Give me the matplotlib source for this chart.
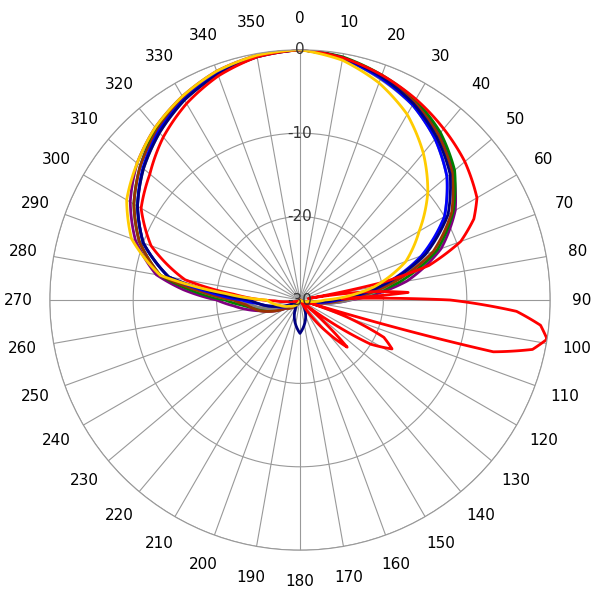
import numpy as np
import matplotlib.pyplot as plt

ang = [0, 10, 20, 30, 40, 50, 60, 70, 80, 90, 100, 120, 150, 180, 210, 240, 255, 265, 270, 275, 280, 290, 300, 310, 320, 330, 340, 350, 360]
purple = [0, -0.5, -1.5, -2.5, -4, -6, -8.5, -12, -17, -24, -28, -29.5, -30, -30, -29.5, -28, -25, -22, -20, -16, -12.5, -9, -6.5, -4.5, -3, -1.8, -0.8, -0.2, 0]
green = [0, -0.4, -1.3, -2.3, -3.8, -5.8, -8.8, -12.5, -18, -25, -28.5, -29.5, -30, -30, -29.5, -28.5, -26, -23, -21, -17, -13, -9.5, -7, -5, -3.2, -2, -1, -0.3, 0]
navy = [0, -0.5, -1.5, -2.8, -4.5, -6.5, -9.5, -14, -20, -26, -29, -30, -29, -26, -29, -29.5, -27, -25, -24, -20, -14, -10, -7.5, -5.5, -3.8, -2.3, -1.2, -0.4, 0]
gray = [0, -0.6, -1.8, -3, -4.8, -7, -10, -14, -19, -24, -28, -29.5, -30, -30, -29.5, -28.5, -26, -24, -22, -18, -14, -10, -7.5, -5.5, -3.8, -2.3, -1.2, -0.4, 0]
brown = [0, -0.5, -1.5, -2.6, -4.2, -6.2, -9, -13, -19, -25, -28, -29.5, -30, -30, -29.5, -28, -25, -23.5, -22, -18, -13, -9.5, -7, -5, -3.4, -2, -1, -0.3, 0]
blue = [0, -0.6, -1.7, -3, -4.8, -7, -10, -14.5, -20, -25.5, -28.5, -29.5, -30, -30, -29.5, -28.5, -27, -25, -23, -19, -14, -10, -7.5, -5.4, -3.6, -2.2, -1.1, -0.3, 0]
gold = [0, -0.8, -2.3, -4.3, -7, -10, -13.5, -16.5, -21, -27, -29, -30, -30, -30, -29.5, -28.5, -27.5, -26.5, -26, -21, -13, -8.5, -6, -4.5, -3, -1.8, -0.8, -0.2, 0]

red_ang = [0, 10, 20, 30, 40, 50, 60, 65, 70, 75, 78, 80, 83, 86, 88, 90, 93, 96, 99, 102, 105, 107, 110, 114, 118, 122, 126, 130, 135, 140, 150, 160, 170, 180, 200, 230, 250, 260, 268, 275, 280, 290, 300, 310, 320, 330, 340, 350, 360]
red = [0, -0.5, -1.3, -2.2, -3.2, -4.2, -5.5, -7, -9.5, -14, -20, -29, -22, -17, -25, -12, -4, -1, 0, -1.5, -6, -29, -24, -19, -17.5, -20, -26, -30, -22, -25, -30, -30, -30, -30, -30, -30, -29.5, -29, -27, -22, -16, -11, -8, -6.5, -4.5, -2.8, -1.4, -0.4, 0]

series = [(purple, '#800080'), (green, '#008000'), (gray, '#808080'), (brown, '#993300'),
          (blue, '#0000ff'), (navy, '#000080'), (red, '#ff0000'), (gold, '#ffcc00')]

fig = plt.figure(figsize=(6, 6), dpi=100)
ax = fig.add_axes([0.083, 0.083, 0.834, 0.834], projection='polar')
ax.set_theta_zero_location('N')
ax.set_theta_direction(-1)
ax.set_facecolor('white')
ax.set_ylim(-30, 0)
ax.set_rticks([-30, -20, -10, 0])
ax.set_yticklabels([])
ax.set_thetagrids(np.arange(0, 360, 10), [str(a) for a in range(0, 360, 10)], fontsize=11)
ax.tick_params(axis='x', pad=12)
ax.grid(color='#999999', linewidth=0.8)
ax.spines['polar'].set_color('#999999')
for v in [-30, -20, -10, 0]:
    ax.text(0, v, str(v), ha='center', va='center', fontsize=11, color='#333333')

for vals, c in series:
    a = red_ang if vals is red else ang
    line, = ax.plot(np.radians(a), vals, color=c, linewidth=2)
    line.get_path()._interpolation_steps = 30

fig.savefig('out.png', dpi=100)
